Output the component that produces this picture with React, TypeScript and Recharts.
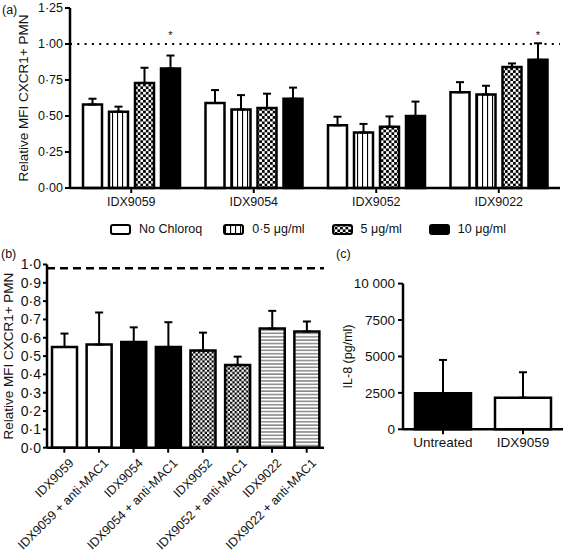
import React from 'react';
import { BarChart, Bar, XAxis, YAxis, ErrorBar, ReferenceLine, Legend, LabelList, Cell } from 'recharts';

// ---------- Panel (a) data ----------
const aCategories = ['IDX9059', 'IDX9054', 'IDX9052', 'IDX9022'];
const aSeriesNames = ['No Chloroq', '0·5 μg/ml', '5 μg/ml', '10 μg/ml'];
const aNoChloroq = [0.58, 0.59, 0.435, 0.665];
const aNoChloroqErr = [0.04, 0.09, 0.06, 0.07];
const aLow = [0.53, 0.545, 0.385, 0.65];
const aLowErr = [0.035, 0.1, 0.06, 0.06];
const aMid = [0.73, 0.555, 0.425, 0.84];
const aMidErr = [0.105, 0.1, 0.072, 0.025];
const aHigh = [0.83, 0.62, 0.5, 0.89];
const aHighErr = [0.09, 0.077, 0.1, 0.115];
const aSignificant = [true, false, false, true];
const aStarLevel = 1.035;
const aYTicks = [0, 0.25, 0.5, 0.75, 1, 1.25];
const aRefLevel = 1;

// ---------- Panel (b) data ----------
const bCategories = [
  'IDX9059', 'IDX9059 + anti-MAC1', 'IDX9054', 'IDX9054 + anti-MAC1',
  'IDX9052', 'IDX9052 + anti-MAC1', 'IDX9022', 'IDX9022 + anti-MAC1',
];
const bValues = [0.55, 0.563, 0.577, 0.55, 0.53, 0.452, 0.65, 0.634];
const bErr = [0.073, 0.175, 0.08, 0.135, 0.098, 0.045, 0.097, 0.055];
const bYTicks = [0, 0.1, 0.2, 0.3, 0.4, 0.5, 0.6, 0.7, 0.8, 0.9, 1.0];
const bRefLevel = 0.98;

// ---------- Panel (c) data ----------
const cCategories = ['Untreated', 'IDX9059'];
const cValues = [2470, 2170];
const cErr = [2290, 1745];
const cYTicks = [0, 2500, 5000, 7500, 10000];

// ---------- styles ----------
const FONT = '"Liberation Sans", Arial, Helvetica, sans-serif';
const INK = '#111';
const aFills = ['#fff', 'url(#pVert)', 'url(#pCheckA)', '#000'];
const bFills = ['#fff', '#fff', '#000', '#000', 'url(#pCheckB)', 'url(#pCheckB)', 'url(#pHoriz)', 'url(#pHoriz)'];
const cFills = ['#000', '#fff'];

const aData = aCategories.map((name, i) => ({
  name,
  s0: aNoChloroq[i], e0: [0, aNoChloroqErr[i]],
  s1: aLow[i], e1: [0, aLowErr[i]],
  s2: aMid[i], e2: [0, aMidErr[i]],
  s3: aHigh[i], e3: [0, aHighErr[i]],
}));
const bData = bCategories.map((name, i) => ({ name, v: bValues[i], e: [0, bErr[i]] }));
const cData = cCategories.map((name, i) => ({ name, v: cValues[i], e: [0, cErr[i]] }));

const dot = (v: number, d: number) => v.toFixed(d).replace('.', '·');

const tickStyle = { fontSize: 12.5, fill: INK, fontFamily: FONT };
const tickStyleB = { fontSize: 14, fill: INK, fontFamily: FONT };
const tickStyleC = { fontSize: 13.5, fill: INK, fontFamily: FONT };
const titleStyle = { fontSize: 13.5, fill: INK, fontFamily: FONT };
const axisLine = { stroke: '#000', strokeWidth: 2.5 };
const tickLine = { stroke: '#000', strokeWidth: 2 };

const Patterns = () => (
  <svg width={0} height={0} style={{ position: 'absolute' }}>
    <defs>
      <pattern id="pVert" patternUnits="userSpaceOnUse" width={5} height={5}>
        <rect x={0} y={0} width={5} height={5} fill="#fff" />
        <rect x={2} y={0} width={1.1} height={5} fill="#000" />
      </pattern>
      <pattern id="pCheckA" patternUnits="userSpaceOnUse" width={5.4} height={5.4}>
        <rect x={0} y={0} width={5.4} height={5.4} fill="#fff" />
        <rect x={0} y={0} width={2.7} height={2.7} fill="#000" />
        <rect x={2.7} y={2.7} width={2.7} height={2.7} fill="#000" />
      </pattern>
      <pattern id="pCheckB" patternUnits="userSpaceOnUse" width={4.6} height={4.6}>
        <rect x={0} y={0} width={4.6} height={4.6} fill="#fff" />
        <rect x={0} y={0} width={2.3} height={2.3} fill="#000" />
        <rect x={2.3} y={2.3} width={2.3} height={2.3} fill="#000" />
      </pattern>
      <pattern id="pHoriz" patternUnits="userSpaceOnUse" width={6} height={3.4}>
        <rect x={0} y={0} width={6} height={3.4} fill="#fff" />
        <rect x={0} y={1.2} width={6} height={1.1} fill="#5a5a5a" />
      </pattern>
    </defs>
  </svg>
);

const renderStar = (props: any) => {
  const vb = props.viewBox || props;
  const { x, y, width, height } = vb;
  const index = props.index;
  if (index == null || !aSignificant[index]) return null;
  const base = y + height;
  const perUnit = height / aHigh[index];
  return (
    <text x={x + width / 2} y={base - aStarLevel * perUnit} textAnchor="middle" fontSize={11} fill={INK}>
      *
    </text>
  );
};

const renderALegend = () => (
  <div style={{ display: 'flex', alignItems: 'center', height: 20, paddingLeft: 110, fontFamily: FONT, fontSize: 12.5, color: INK }}>
    {aSeriesNames.map((n, i) => (
      <div key={n} style={{ display: 'flex', alignItems: 'center', marginRight: i === 0 ? 21 : 27 }}>
        <svg width={21} height={11} style={{ marginRight: 8 }}>
          <rect x={1} y={1} width={19} height={9} rx={2} fill={aFills[i]} stroke="#000" strokeWidth={2} />
        </svg>
        <span>{n}</span>
      </div>
    ))}
  </div>
);

const RotTick = (props: any) => {
  const { x, y, payload } = props;
  const ax = x + 4;
  const ay = y + 3;
  return (
    <text x={ax} y={ay} transform={`rotate(-45 ${ax} ${ay})`} textAnchor="end" dominantBaseline="hanging"
      fontSize={12.5} fill={INK} fontFamily={FONT}>
      {payload.value}
    </text>
  );
};

const panelLabel = (txt: string, left: number, top: number) => (
  <div style={{ position: 'absolute', left, top, fontSize: 12.5, fontFamily: FONT, color: INK, lineHeight: '14px' }}>{txt}</div>
);

export default function App() {
  const aKeys = ['s0', 's1', 's2', 's3'];
  const eKeys = ['e0', 'e1', 'e2', 'e3'];
  return (
    <div style={{ position: 'absolute', left: 0, top: 0, width: 568, height: 553, background: '#fff', fontFamily: FONT, overflow: 'hidden' }}>
      <Patterns />
      {panelLabel('(a)', 2, 3)}
      {panelLabel('(b)', 1, 247)}
      {panelLabel('(c)', 336, 247)}

      {/* Panel (a) */}
      <div style={{ position: 'absolute', left: 0, top: 0 }}>
        <BarChart width={568} height={245} data={aData} margin={{ top: 8, right: 8, left: 0, bottom: 6 }}
          barCategoryGap={13} barGap={7}>
          <XAxis dataKey="name" height={31} axisLine={axisLine} tickLine={tickLine} tickSize={5} tick={tickStyle} tickMargin={4} />
          <YAxis type="number" domain={[0, 1.25]} ticks={aYTicks} width={70} axisLine={axisLine} tickLine={tickLine}
            tickSize={5} tick={tickStyle} tickFormatter={(v: number) => dot(v, 2)} interval={0}
            label={{ value: 'Relative MFI CXCR1+ PMN', angle: -90, position: 'center', dx: -12, style: titleStyle }} />
          <ReferenceLine y={aRefLevel} stroke="#000" strokeWidth={2.2} strokeDasharray="2 5.3" />
          {aKeys.map((k, i) => (
            <Bar key={k} dataKey={k} name={aSeriesNames[i]} fill={aFills[i]} stroke="#000" strokeWidth={2.5} isAnimationActive={false}>
              <ErrorBar dataKey={eKeys[i]} width={4} stroke="#000" strokeWidth={2} direction="y" />
              {i === 3 ? <LabelList dataKey={k} content={renderStar} /> : null}
            </Bar>
          ))}
          <Legend verticalAlign="bottom" align="left" height={20} content={renderALegend} />
        </BarChart>
      </div>

      {/* Panel (b) */}
      <div style={{ position: 'absolute', left: 0, top: 250 }}>
        <BarChart width={340} height={303} data={bData} margin={{ top: 14.5, right: 16, left: 0, bottom: 0 }} barCategoryGap={5}>
          <XAxis dataKey="name" height={105.3} axisLine={axisLine} tickLine={tickLine} tickSize={5} interval={0} tick={<RotTick />} />
          <YAxis type="number" domain={[0, 1]} ticks={bYTicks} width={47} axisLine={axisLine} tickLine={tickLine}
            tickSize={4} tickMargin={2} tick={tickStyleB} tickFormatter={(v: number) => dot(v, 1)} interval={0}
            label={{ value: 'Relative MFI CXCR1+ PMN', angle: -90, position: 'center', dx: -15.5, style: titleStyle }} />
          <ReferenceLine y={bRefLevel} stroke="#000" strokeWidth={2.5} strokeDasharray="8 5" />
          <Bar dataKey="v" stroke="#000" strokeWidth={2.5} isAnimationActive={false}>
            {bData.map((d, i) => <Cell key={d.name} fill={bFills[i]} />)}
            <ErrorBar dataKey="e" width={4} stroke="#000" strokeWidth={2} direction="y" />
          </Bar>
        </BarChart>
      </div>

      {/* Panel (c) */}
      <div style={{ position: 'absolute', left: 340, top: 250 }}>
        <BarChart width={228} height={210} data={cData} margin={{ top: 33.6, right: 5, left: 0, bottom: 0 }} barCategoryGap={12}>
          <XAxis dataKey="name" height={30.7} axisLine={axisLine} tickLine={tickLine} tickSize={5} tick={tickStyleC} tickMargin={3} />
          <YAxis type="number" domain={[0, 10000]} ticks={cYTicks} width={63} axisLine={axisLine} tickLine={tickLine}
            tickSize={5} tickMargin={3} tick={tickStyleC} interval={0}
            tickFormatter={(v: number) => (v >= 10000 ? '10 000' : String(v))}
            label={{ value: 'IL-8 (pg/ml)', angle: -90, position: 'center', dx: -23.5, style: { fontSize: 12.5, fill: INK, fontFamily: FONT } }} />
          <Bar dataKey="v" stroke="#000" strokeWidth={2.5} isAnimationActive={false}>
            {cData.map((d, i) => <Cell key={d.name} fill={cFills[i]} />)}
            <ErrorBar dataKey="e" width={4} stroke="#000" strokeWidth={2} direction="y" />
          </Bar>
        </BarChart>
      </div>
    </div>
  );
}
